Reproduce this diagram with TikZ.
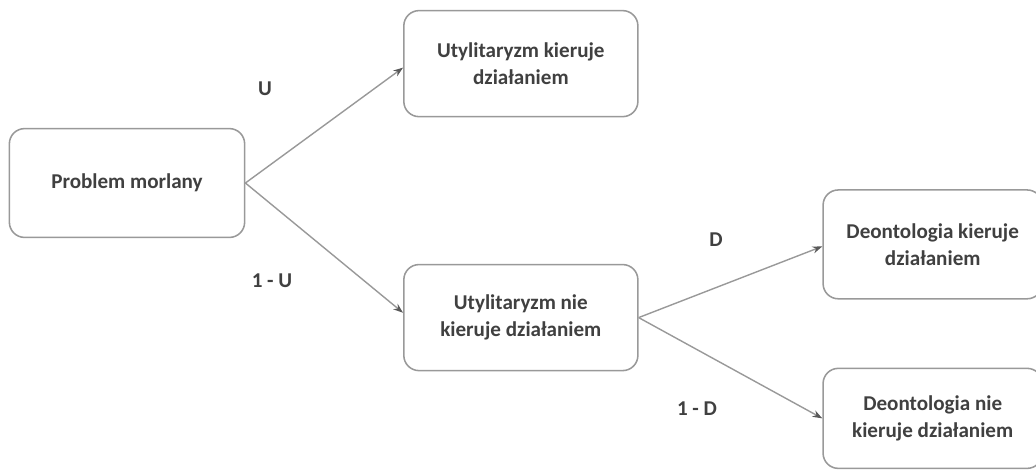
\documentclass[tikz,border=0pt]{standalone}
\usepackage{fontspec}
\setmainfont{Carlito}
\usetikzlibrary{arrows.meta, positioning}

\begin{document}
\begin{tikzpicture}[
        x=0.025cm, y=-0.025cm,
        node distance=1.3cm,
        box/.style={rectangle, rounded corners=0.38cm, draw=black!40, line width=1.1pt, minimum width=5.85cm, minimum height=2.65cm, align=center, text=black!75, font=\fontsize{15}{19}\selectfont\bfseries},
        prob/.style={text=black!75, font=\fontsize{15}{19}\selectfont\bfseries},
        arrow/.style={-{Stealth[length=7pt, width=5pt, color=black!65]}, draw=black!40, line width=1pt}
    ]
    \useasboundingbox (0,0) rectangle (1036,470);

    % Nodes
    \node[box, minimum width=5.88cm, minimum height=2.72cm] (moral) at (127,183) {Problem morlany};
    \node[box, above right=0.26cm and 3.94cm of moral.north east, anchor=south west] (utyl) {Utylitaryzm kieruje \\ działaniem};
    \node[box, below right=0.64cm and 3.94cm of moral.south east, anchor=north west] (nieutyl) {Utylitaryzm nie \\ kieruje działaniem};
    \node[box, minimum width=5.48cm, minimum height=2.72cm, right=4.59cm of nieutyl, yshift=1.83cm] (deont) {Deontologia kieruje \\ działaniem};
    \node[box, minimum width=5.48cm, minimum height=2.5cm, below=1.7cm of deont] (niedeont) {Deontologia nie \\ kieruje działaniem};

    % Probabilities
    \node[prob] (pu) at (265,89) {U};
    \node[prob] (pnu) at (272,281) {1 - U};
    \node[prob] (pd) at (716,240) {D};
    \node[prob] (pnd) at (697,409) {1 - D};

    % Arrows
    \draw[arrow] (moral.east) -- ([yshift=-0.1cm]utyl.west);
    \draw[arrow] (moral.east) -- ([yshift=0.12cm]nieutyl.west);
    \draw[arrow] (nieutyl.east) -- ([yshift=-0.05cm]deont.west);
    \draw[arrow] (nieutyl.east) -- (niedeont.west);

    \end{tikzpicture}
\end{document}
